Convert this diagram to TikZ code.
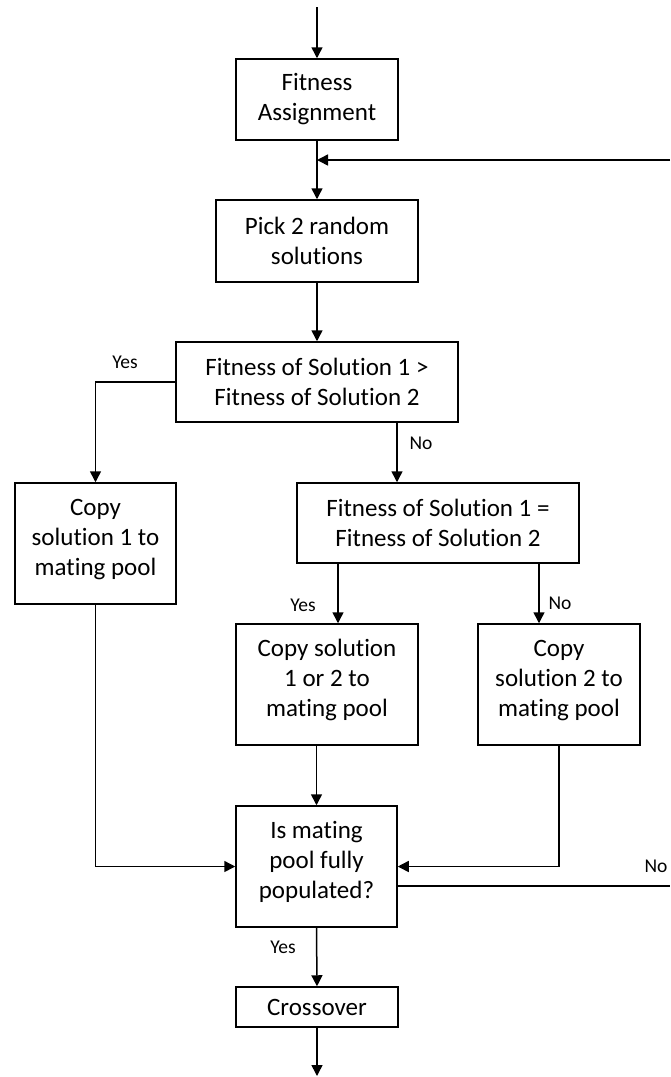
\documentclass[tikz,border=0pt]{standalone}
\usepackage{fontspec}
\setmainfont{Carlito}[RawFeature={-liga}]
\usetikzlibrary{arrows.meta,positioning}

\begin{document}
\begin{tikzpicture}[x=1pt, y=-1pt, line width=1.5pt,
        >={Triangle[length=11pt,width=11pt]},
        box/.style={draw, align=center, inner sep=0pt, font=\fontsize{25}{30}\selectfont},
        lbl/.style={inner sep=0pt, font=\fontsize{19.5}{23}\selectfont}]
    \useasboundingbox (0, 0) rectangle (670, 1077);

    \node[box, minimum width=162pt, minimum height=81pt] (fitness) at (317, 99.5) {Fitness\\Assignment};
    \node[box, minimum width=202pt, minimum height=82pt] (pick) at (317, 241) {Pick 2 random\\solutions};
    \node[box, minimum width=282pt, minimum height=80pt] (greater) at (317, 382) {Fitness of Solution 1 >\\Fitness of Solution 2};
    \node[box, minimum width=161pt, minimum height=121pt] (copyone) at (95.5, 543.5) {Copy\\solution 1 to\\mating pool\\[-17pt]};
    \node[box, minimum width=282pt, minimum height=80pt] (equal) at (438, 523) {Fitness of Solution 1 =\\Fitness of Solution 2};
    \node[box, minimum width=182pt, minimum height=121pt] (copyeither) at (327, 684.5) {Copy solution\\1 or 2 to\\mating pool\\[-17pt]};
    \node[box, minimum width=162pt, minimum height=121pt] (copytwo) at (559, 684.5) {Copy\\solution 2 to\\mating pool\\[-17pt]};
    \node[box, minimum width=161pt, minimum height=121pt] (full) at (316.5, 866.5) {Is mating\\pool fully\\populated?\\[-17pt]};
    \node[box, minimum width=162pt, minimum height=40pt] (crossover) at (317, 1007) {Crossover};

    \node[lbl] (yesgreater) at (125, 362) {Yes};
    \node[lbl] (nogreater) at (421, 443) {No};
    \node[lbl] (yesequal) at (303, 605) {Yes};
    \node[lbl] (noequal) at (560, 603) {No};
    \node[lbl] (nofull) at (656, 866) {No};
    \node[lbl] (yesfull) at (283, 947) {Yes};

    \coordinate (start) at (317, 7);
    \coordinate (back) at (670, 160);
    \coordinate (loop) at (670, 886);
    \coordinate (finish) at (317, 1076);
    \coordinate (nodown) at ([xshift=80pt]greater.south);
    \coordinate (yesdown) at ([xshift=11pt]copyeither.north);
    \coordinate (twodown) at ([xshift=-20pt]copytwo.north);
    \coordinate (loopout) at ([yshift=-19.5pt]full.east);

    \draw
    (start) edge[->] (fitness.north)
    (fitness.south) edge[->] (pick.north)
    (back) edge[->] (back -| fitness.south)
    (pick.south) edge[->] (greater.north)
    (nodown) edge[->] (nodown |- equal.north)
    (yesdown |- equal.south) edge[->] (yesdown)
    (twodown |- equal.south) edge[->] (twodown)
    (copyeither.south -| full.north) edge[->] (full.north)
    (loopout) edge (loopout -| loop)
    (full.south) edge[->] (crossover.north)
    (crossover.south) edge[->] (finish);
    \draw[->] (greater.west) -| (copyone.north);
    \draw[->] (copyone.south) |- (full.west);
    \draw[->] (copytwo.south) |- (full.east);
\end{tikzpicture}
\end{document}
